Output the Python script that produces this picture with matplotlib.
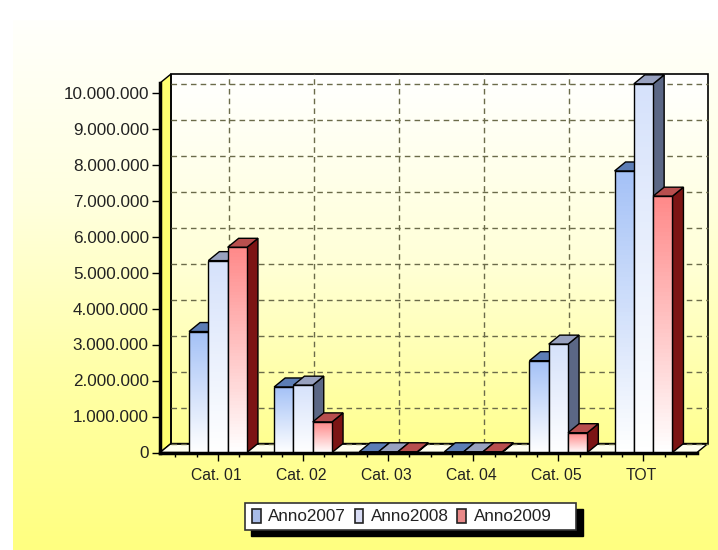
import numpy as np
import matplotlib
matplotlib.use('Agg')
import matplotlib.pyplot as plt
from matplotlib.colors import LinearSegmentedColormap
from matplotlib.patches import Polygon, Patch, Rectangle
from matplotlib.transforms import Affine2D
from matplotlib.ticker import FuncFormatter, MultipleLocator

plt.rcParams['font.family'] = ['Liberation Sans', 'DejaVu Sans']

categories = ['Cat. 01', 'Cat. 02', 'Cat. 03', 'Cat. 04', 'Cat. 05', 'TOT']
anno2007 = [3360000, 1820000, 20000, 20000, 2550000, 7820000]
anno2008 = [5330000, 1870000, 20000, 20000, 3010000, 10240000]
anno2009 = [5700000, 850000, 20000, 20000, 550000, 7120000]
series_names = ['Anno2007', 'Anno2008', 'Anno2009']
series_values = [anno2007, anno2008, anno2009]

# front, side, top colours of each series
front_colors = ['#a5c2f7', '#d6e2fb', '#ff8a8a']
side_colors = ['#56688f', '#5b6785', '#7c1414']
top_colors = ['#5c7db5', '#98a1bf', '#b84f4e']
legend_colors = ['#a8bce8', '#d8dcf5', '#e88888']

W, H = 718, 550
dx, dy = 11, 9  # 3d depth in pixels

fig = plt.figure(figsize=(W / 100, H / 100), dpi=100)

# page background
bg = fig.add_axes([0, 0, 1, 1], zorder=0)
bg.axis('off')
page = LinearSegmentedColormap.from_list('page', ['#fffffc', '#ffffe0', '#ffffa8', '#ffff80'])
bg.imshow(np.linspace(0, 1, 256).reshape(-1, 1), cmap=page, aspect='auto',
          extent=[13 / W, 1, 0, 1 - 20 / H])
bg.set_xlim(0, 1)
bg.set_ylim(0, 1)

# axes = front plane of the chart
left, right, top, bottom = 160, 697, 83, 452.5
ax = fig.add_axes([left / W, 1 - bottom / H, (right - left) / W, (bottom - top) / H], zorder=1)
ax.patch.set_alpha(0)
per_million = 36.0
cat_step = 85.1
ax.set_xlim((left - 218) / cat_step, (right - 218) / cat_step)
ax.set_ylim(0, (bottom - top) / per_million * 1e6)
ymax = ax.get_ylim()[1]
x0, x1 = ax.get_xlim()

back = ax.transData + Affine2D().translate(dx, dy)

# walls and floor
wall = LinearSegmentedColormap.from_list('wall', ['#ffffff', '#ffffd8', '#ffff90'])
ax.imshow(np.linspace(0, 1, 256).reshape(-1, 1), cmap=wall, aspect='auto',
          extent=[x0, x1, 0, ymax], transform=back, zorder=1, clip_on=False)
ax.set_xlim(x0, x1)
ax.set_ylim(0, ymax)


def depth_poly(pts, **kw):
    # pts: list of (x, y, is_back) in data coordinates
    out = []
    for x, y, is_back in pts:
        px = ax.transData.transform((x, y))
        out.append((px[0] + dx, px[1] + dy) if is_back else tuple(px))
    return Polygon(out, closed=True, transform=None, clip_on=False, **kw)


ax.add_patch(depth_poly([(x0, 0, 0), (x0, ymax, 0), (x0, ymax, 1), (x0, 0, 1)],
                        facecolor='#ffff70', edgecolor='black', linewidth=1, zorder=1.5))
ax.add_patch(depth_poly([(x0, 0, 0), (x1, 0, 0), (x1, 0, 1), (x0, 0, 1)],
                        facecolor='#fffff0', edgecolor='black', linewidth=1, zorder=1.5))
ax.add_patch(depth_poly([(x0, ymax, 1), (x1, ymax, 1), (x1, 0, 1), (x0, 0, 1)],
                        facecolor='none', edgecolor='black', linewidth=1.2, zorder=1.6))

# back wall grid
grid_kw = dict(color='#6b6b4a', linewidth=1, linestyle=(0, (4, 3)), transform=back, zorder=1.7, clip_on=False)
for v in range(0, 10000001, 1000000):
    ax.plot([x0, x1], [v, v], **grid_kw)
for i in range(len(categories)):
    ax.plot([i, i], [0, ymax], **grid_kw)

# bars
bar_w = 19.3 / cat_step
for s, (vals, fc, sc, tc) in enumerate(zip(series_values, front_colors, side_colors, top_colors)):
    grad = LinearSegmentedColormap.from_list('b%d' % s, [fc, '#ffffff'])
    for i, v in enumerate(vals):
        a = i + (s - 1.5) * bar_w
        b = a + bar_w
        z = 3 + s + i * 5
        ax.add_patch(depth_poly([(b, 0, 0), (b, v, 0), (b, v, 1), (b, 0, 1)],
                                facecolor=sc, edgecolor='black', linewidth=1, zorder=z))
        ax.add_patch(depth_poly([(a, v, 0), (b, v, 0), (b, v, 1), (a, v, 1)],
                                facecolor=tc, edgecolor='black', linewidth=1, zorder=z))
        ax.imshow(np.linspace(0, 1, 64).reshape(-1, 1), cmap=grad, aspect='auto',
                  extent=[a, b, 0, v], zorder=z + 0.1)
        ax.add_patch(Rectangle((a, 0), bar_w, v, facecolor='none', edgecolor='black',
                               linewidth=1, zorder=z + 0.2))
ax.set_xlim(x0, x1)
ax.set_ylim(0, ymax)

# axes styling
for name in ['top', 'right']:
    ax.spines[name].set_visible(False)
for name in ['left', 'bottom']:
    ax.spines[name].set_linewidth(2.5)
    ax.spines[name].set_zorder(50)
ax.set_xticks(range(len(categories)))
ax.set_xticklabels(categories, fontsize=11.3, color='#222222')
ax.xaxis.set_minor_locator(MultipleLocator(0.25))
ax.set_yticks(range(0, 10000001, 1000000))
ax.yaxis.set_major_formatter(FuncFormatter(lambda v, p: f'{int(v):,}'.replace(',', '.')))
ax.tick_params(axis='y', labelsize=12.3, length=6, width=1, pad=2, labelcolor='#222222')
ax.tick_params(axis='x', which='major', length=6, width=1, pad=5)
ax.tick_params(axis='x', which='minor', length=3, width=1)
for lab in ax.get_xticklabels():
    lab.set_transform(lab.get_transform() + Affine2D().translate(-2, 0))

# legend box with hard shadow, wider than its entries on the right
fig.add_artist(Rectangle((251 / W, 1 - 535.5 / H), 332 / W, 27 / H, transform=fig.transFigure,
                         facecolor='black', edgecolor='black', zorder=55))
fig.add_artist(Rectangle((245 / W, 1 - 530 / H), 331 / W, 27 / H, transform=fig.transFigure,
                         facecolor='white', edgecolor='#333333', linewidth=1.2, zorder=56))
handles = [Patch(facecolor=c, edgecolor='#222222', linewidth=1.2) for c in legend_colors]
leg = fig.legend(handles, series_names, ncol=3, loc='center left',
                 bbox_to_anchor=(252 / W, 1 - 516.5 / H), fontsize=12.3, frameon=False,
                 handlelength=0.5, handleheight=0.9, handletextpad=0.45, columnspacing=0.5,
                 borderpad=0, borderaxespad=0, labelcolor='#222222')
leg.set_zorder(60)

fig.savefig('out.png', dpi=100)
